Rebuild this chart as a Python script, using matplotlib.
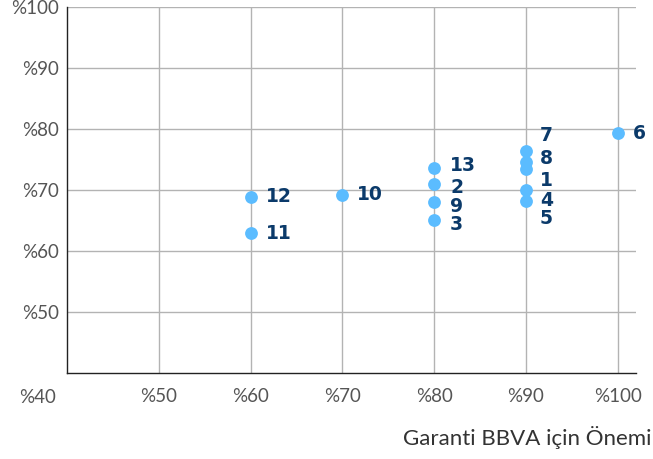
"""Garanti BBVA önem matrisi nokta grafiği."""

import matplotlib as mpl
import matplotlib.pyplot as plt

mpl.use("Agg")

LABELS = ["1", "2", "3", "4", "5", "6", "7", "8", "9", "10", "11", "12", "13"]
IMPORTANCE_GARANTI = [90, 80, 80, 90, 90, 100, 90, 90, 80, 70, 60, 60, 80]
IMPORTANCE_STAKEHOLDER = [73.4, 71.0, 65.1, 70.0, 68.2, 79.3, 76.4, 74.6, 68.0, 69.2, 62.9, 68.9, 73.6]

# label nudges in pixels (dx, dy; positive dy = up) so crowded labels stay readable
LABEL_NUDGE_PX = {
    "7": (14, 15), "8": (14, 3), "1": (14, -11), "4": (14, -10), "5": (14, -18),
    "13": (16, 3), "2": (16, -4), "9": (16, -4), "3": (16, -5),
    "12": (15, 0), "11": (15, 0), "10": (15, 0), "6": (15, 0),
}

X_TICKS = [50, 60, 70, 80, 90, 100]
Y_TICKS = [50, 60, 70, 80, 90, 100]

POINT_COLOR = "#5bbcff"
LABEL_COLOR = "#0b3a6a"
TICK_COLOR = "#555555"
GRID_COLOR = "#b3b3b3"


def main() -> None:
    plt.rcParams["font.family"] = ["Lato", "DejaVu Sans"]
    fig = plt.figure(figsize=(6.53, 4.59), dpi=100)
    ax = fig.add_axes([0.1026, 0.1874, 0.8714, 0.7973])

    ax.set_xlim(40, 102)
    ax.set_ylim(40, 100)
    ax.set_xticks(X_TICKS)
    ax.set_yticks(Y_TICKS)
    ax.set_xticklabels([f"%{v}" for v in X_TICKS])
    ax.set_yticklabels([f"%{v}" for v in Y_TICKS])
    ax.tick_params(length=0, labelsize=13.5, colors=TICK_COLOR)
    ax.tick_params(axis="y", pad=6)
    ax.tick_params(axis="x", pad=11)

    ax.grid(True, color=GRID_COLOR, linewidth=1.0)
    ax.set_axisbelow(True)
    ax.spines[["top", "right"]].set_visible(False)
    ax.spines[["left", "bottom"]].set_color("#222222")
    ax.spines[["left", "bottom"]].set_linewidth(1.0)

    ax.scatter(IMPORTANCE_GARANTI, IMPORTANCE_STAKEHOLDER, s=85,
               color=POINT_COLOR, zorder=3, linewidths=0)

    for label, x, y in zip(LABELS, IMPORTANCE_GARANTI, IMPORTANCE_STAKEHOLDER):
        dx, dy = LABEL_NUDGE_PX[label]
        ax.annotate(label, (x, y), xytext=(dx * 0.72, dy * 0.72),
                    textcoords="offset points", ha="left", va="center",
                    fontsize=13.5, fontweight="bold", color=LABEL_COLOR,
                    family=["DejaVu Sans"],
                    annotation_clip=False)

    # corner label shared by both axes
    ax.text(-0.051, -0.045, "%40", transform=ax.transAxes, ha="center", va="top",
            fontsize=13.5, color=TICK_COLOR)

    fig.text(0.997, 0.047, "Garanti BBVA için Önemi", ha="right", va="center",
             fontsize=16, color="#333333")

    fig.savefig("out.png", dpi=100, facecolor="white")
    plt.close(fig)


if __name__ == "__main__":
    main()
